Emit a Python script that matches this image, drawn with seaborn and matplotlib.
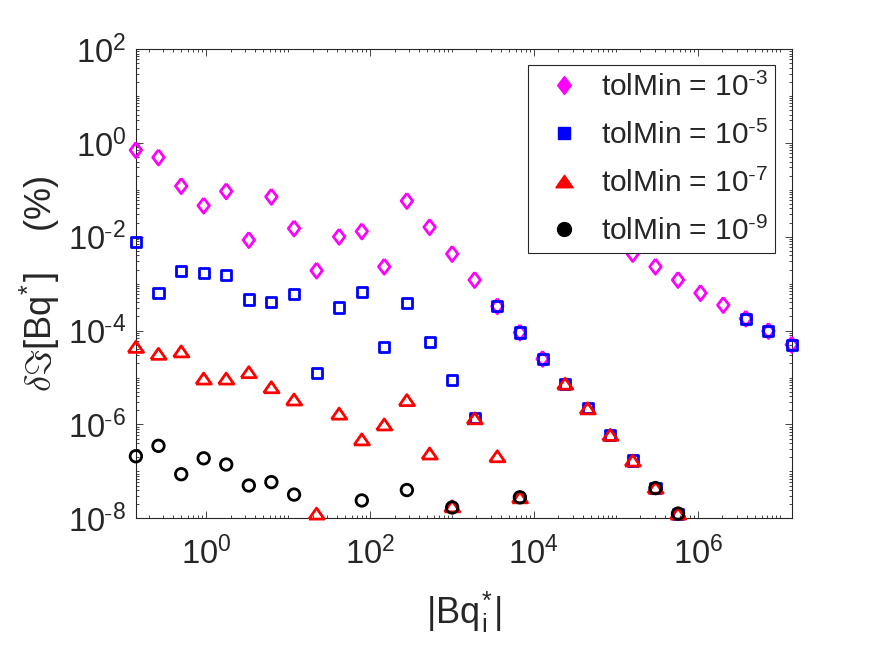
import numpy as np
import matplotlib
matplotlib.use('Agg')
import matplotlib.pyplot as plt
import seaborn as sns
from matplotlib.lines import Line2D
from matplotlib.ticker import FixedLocator, LogLocator, FuncFormatter, NullFormatter

# |Bq*| and relative error (%), one pair of lists per tolMin
bq_tol3 = [0.14, 0.264, 0.50, 0.94, 1.77, 3.34, 6.29, 11.9, 22.4, 42.2, 79.8, 150, 283, 536,
           1010, 1900, 3590, 6770, 12800, 161000, 305000, 575000, 1.08e6, 2.05e6, 3.86e6,
           7.28e6, 1.40e7]
err_tol3 = [0.70, 0.49, 0.12, 0.046, 0.093, 0.0085, 0.071, 0.015, 0.0019, 0.010, 0.013, 0.0023,
            0.058, 0.016, 0.0043, 0.0012, 3.3e-4, 9.1e-5, 2.5e-5, 0.0043, 0.0023, 0.0012,
            6.3e-4, 3.5e-4, 1.8e-4, 9.8e-5, 5.0e-5]

bq_tol5 = [0.14, 0.264, 0.50, 0.94, 1.77, 3.34, 6.29, 11.9, 22.4, 42.2, 79.8, 150, 283, 536,
           1010, 1900, 3590, 6770, 12800, 24100, 45400, 85700, 161000, 305000, 575000,
           3.86e6, 7.28e6, 1.40e7]
err_tol5 = [0.0078, 6.2e-4, 0.0019, 0.0017, 0.0015, 4.6e-4, 4.1e-4, 6.0e-4, 1.26e-5, 3.1e-4,
            6.6e-4, 4.5e-5, 3.8e-4, 5.8e-5, 8.7e-6, 1.4e-6, 3.3e-4, 9.1e-5, 2.5e-5, 7.4e-6,
            2.2e-6, 6.0e-7, 1.7e-7, 4.5e-8, 1.26e-8, 1.8e-4, 9.8e-5, 5.0e-5]

bq_tol7 = [0.14, 0.264, 0.50, 0.94, 1.77, 3.34, 6.29, 11.9, 22.4, 42.2, 79.8, 150, 283, 536,
           1010, 1900, 3590, 6770, 24100, 45400, 85700, 161000, 305000, 575000]
err_tol7 = [4.5e-5, 3.2e-5, 3.6e-5, 9.5e-6, 9.5e-6, 1.3e-5, 6.2e-6, 3.4e-6, 1.26e-8, 1.7e-6,
            4.8e-7, 1.0e-6, 3.3e-6, 2.4e-7, 1.8e-8, 1.35e-6, 2.1e-7, 2.8e-8, 7.4e-6, 2.2e-6,
            6.0e-7, 1.7e-7, 4.5e-8, 1.26e-8]

bq_tol9 = [0.14, 0.264, 0.50, 0.94, 1.77, 3.34, 6.29, 11.9, 79.8, 283, 1010, 6770, 305000, 575000]
err_tol9 = [2.1e-7, 3.5e-7, 8.7e-8, 1.9e-7, 1.4e-7, 5.0e-8, 5.9e-8, 3.2e-8, 2.4e-8, 4.0e-8,
            1.7e-8, 2.8e-8, 4.4e-8, 1.26e-8]

tol_exp = [-3, -5, -7, -9]
colors = ['#FF00FF', '#0000FF', '#FF0000', '#000000']

x_ticks = [1, 1e2, 1e4, 1e6]
y_ticks = [1e-8, 1e-6, 1e-4, 1e-2, 1, 1e2]

sns.set_style('ticks')
plt.rcParams['font.family'] = ['Liberation Sans', 'DejaVu Sans']
plt.rcParams['mathtext.fontset'] = 'cm'
plt.rcParams['axes.unicode_minus'] = False

# matlab-like markers
diamond = [(0, 1), (0.76, 0), (0, -1), (-0.76, 0), (0, 1)]
triangle = [(-1, -0.72), (1, -0.72), (0, 0.72), (-1, -0.72)]
markers = [diamond, 's', triangle, 'o']
sizes = [10.9, 7.3, 11.0, 8.3]
leg_sizes = [13.0, 8.3, 12.5, 10.0]

def pow10(e):
    if e < 0:
        return r'$\mathdefault{10^{\text{-}%d}}$' % (-e)
    return r'$\mathdefault{10^{%d}}$' % e

fig = plt.figure(figsize=(8.75, 6.56), dpi=100)
ax = fig.add_axes([0.1551, 0.2099, 0.7497, 0.7154])

series = [(bq_tol3, err_tol3), (bq_tol5, err_tol5), (bq_tol7, err_tol7), (bq_tol9, err_tol9)]
for (xs, ys), c, m, ms in zip(series, colors, markers, sizes):
    sns.scatterplot(x=xs, y=ys, ax=ax, marker=m, s=ms ** 2, color=c, facecolors='none',
                    edgecolor=c, linewidth=2.0, clip_on=False, zorder=3)

ax.set_xscale('log')
ax.set_yscale('log')
ax.set_xlim(0.1393, 1.40e7)
ax.set_ylim(1e-8, 1e2)

ax.xaxis.set_major_locator(FixedLocator(x_ticks))
ax.yaxis.set_major_locator(FixedLocator(y_ticks))
ax.xaxis.set_minor_locator(LogLocator(base=10, subs=np.arange(1, 10), numticks=100))
ax.yaxis.set_minor_locator(LogLocator(base=10, subs=np.arange(1, 10), numticks=100))
fmt = FuncFormatter(lambda v, p: pow10(int(round(np.log10(v)))))
ax.xaxis.set_major_formatter(fmt)
ax.yaxis.set_major_formatter(fmt)
ax.xaxis.set_minor_formatter(NullFormatter())
ax.yaxis.set_minor_formatter(NullFormatter())

ax.tick_params(which='both', direction='in', top=True, right=True, color='#262626', width=0.6)
ax.tick_params(which='major', length=4.8, labelsize=23.5, labelcolor='#262626')
ax.tick_params(which='minor', length=2.4)
ax.tick_params(axis='x', which='major', pad=13)
ax.tick_params(axis='y', which='major', pad=7)
for sp in ax.spines.values():
    sp.set_linewidth(0.8)
    sp.set_color('#262626')

ax.set_xlabel(r'|Bq$_{\mathdefault{i}}^{\mathdefault{*}}$|', fontsize=26, color='#262626', labelpad=13)
ax.set_ylabel(r'$\delta\Im$[Bq$^{\mathdefault{*}}$]    (%)', fontsize=26, color='#262626', labelpad=4)

handles = [Line2D([], [], linestyle='none', marker=m, markersize=ms, color=c,
                  markerfacecolor=c, markeredgecolor=c)
           for m, ms, c in zip(markers, leg_sizes, colors)]
labels = ['tolMin = ' + pow10(e) for e in tol_exp]
leg = ax.legend(handles, labels, loc='upper right', bbox_to_anchor=(0.9745, 0.966),
                borderaxespad=0, fontsize=21.5, frameon=True, fancybox=False,
                framealpha=1, edgecolor='#262626', handlelength=1.9, handletextpad=0.29,
                borderpad=0.25, labelspacing=0.63)
leg.get_frame().set_linewidth(0.8)
leg.set_zorder(5)

fig.savefig('out.png', dpi=100)
